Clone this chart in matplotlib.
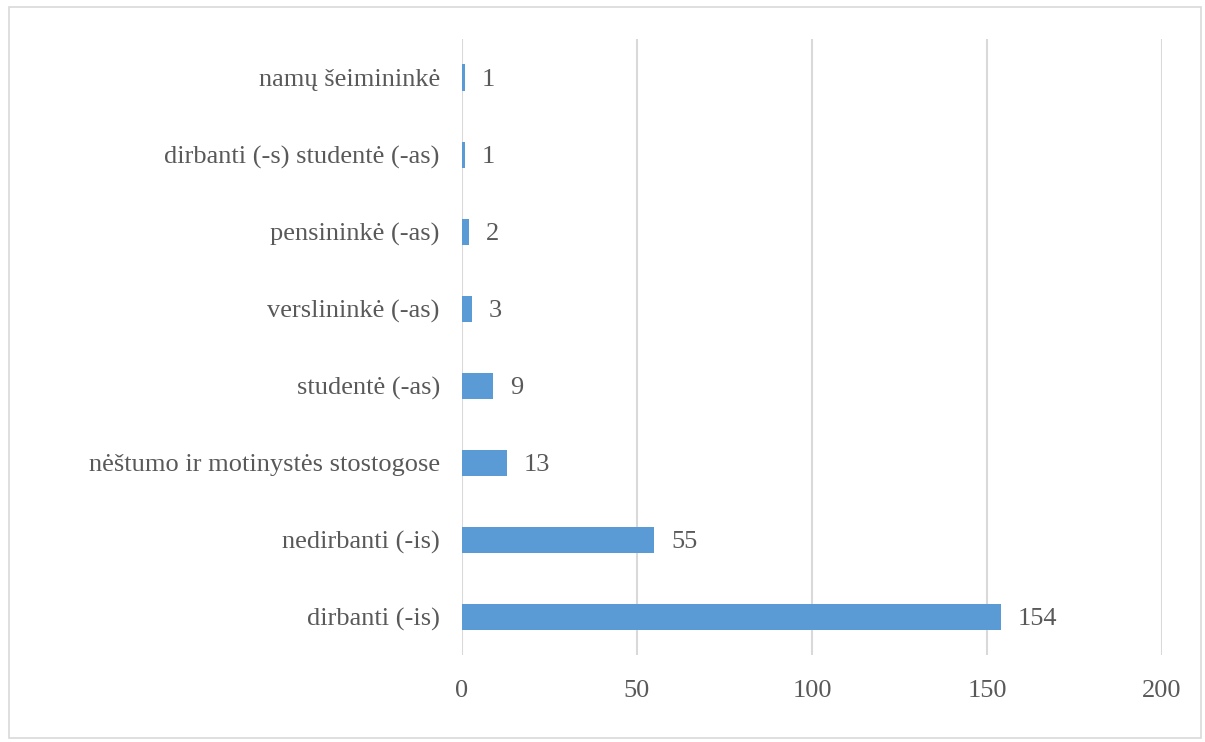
import matplotlib.pyplot as plt
from matplotlib.patches import Rectangle

# Užimtumo kategorijos ir respondentų skaičius
categories = [
    "dirbanti (-is)",
    "nedirbanti (-is)",
    "nėštumo ir motinystės stostogose",
    "studentė (-as)",
    "verslininkė (-as)",
    "pensininkė (-as)",
    "dirbanti (-s) studentė (-as)",
    "namų šeimininkė",
]
counts = [154, 55, 13, 9, 3, 2, 1, 1]
xticks = [0, 50, 100, 150, 200]

TEXT = "#595959"
BAR = "#5B9BD5"
GRID = "#D9D9D9"

plt.rcParams['font.family'] = ['Liberation Serif', 'DejaVu Serif']

fig = plt.figure(figsize=(12.05, 7.42), dpi=100)
ax = fig.add_axes([0.3834, 0.1166, 0.5809, 0.8302])

# rėmelis aplink visą diagramą
fig.patches.append(Rectangle((0.0075, 0.006), 0.989, 0.984, transform=fig.transFigure,
                             fill=False, edgecolor=GRID, linewidth=1.2))

pos = list(range(len(categories)))
bars = ax.barh(pos, counts, height=0.35, color=BAR, zorder=3)
for b, v in zip(bars, counts):
    ax.annotate(str(v), (b.get_width(), b.get_y() + b.get_height() / 2),
                xytext=(12, 0), textcoords="offset points",
                va="center_baseline", ha="left", fontsize=19, color=TEXT)

ax.set_xlim(0, 200)
ax.set_ylim(-0.5, len(categories) - 0.5)
ax.set_xticks(xticks)
ax.set_yticks(pos)
ax.set_yticklabels(categories, va="center_baseline")
ax.tick_params(axis="both", length=0, labelsize=19, labelcolor=TEXT)
ax.tick_params(axis="y", pad=16)
ax.tick_params(axis="x", pad=18)
ax.xaxis.grid(True, color=GRID, linewidth=1.5, zorder=0)
for s in ax.spines.values():
    s.set_visible(False)

fig.savefig("out.png", dpi=100)
